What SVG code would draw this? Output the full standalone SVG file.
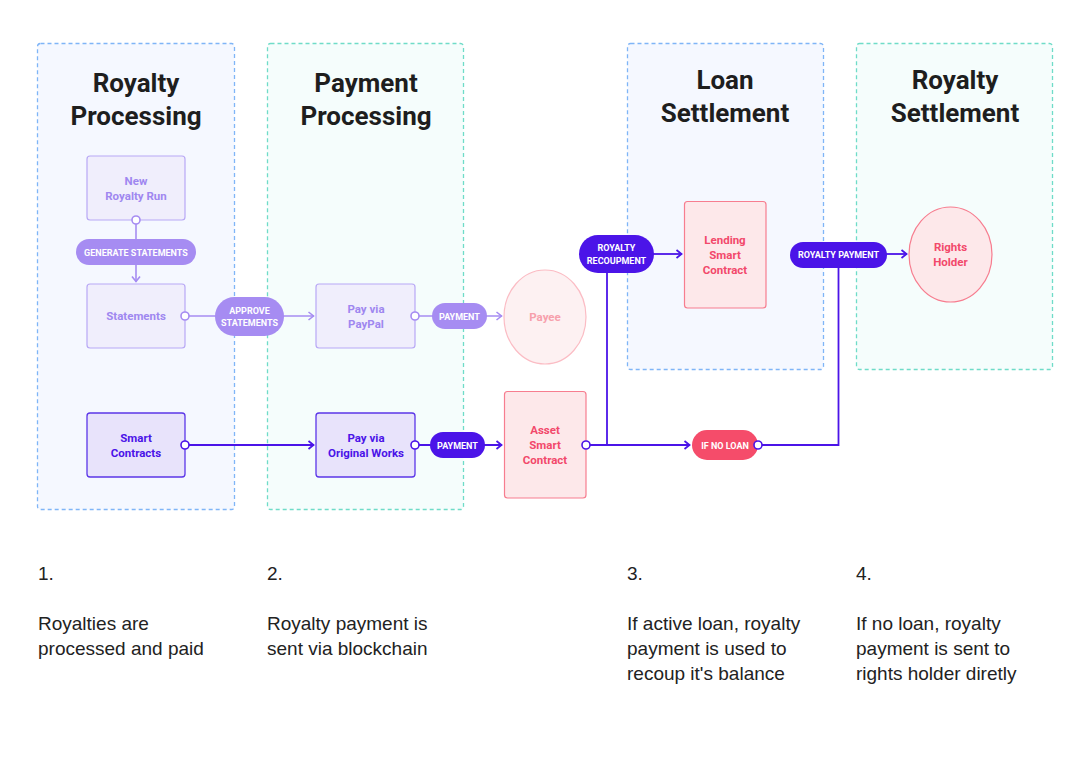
<svg xmlns="http://www.w3.org/2000/svg" width="1091" height="765" viewBox="0 0 1091 765">
<defs>
<style>
.pb{fill:#f5f8ff;stroke:#7fb5f7;stroke-width:1.3;stroke-dasharray:4 3}
.pt{fill:#f5fdfc;stroke:#6fdcc8;stroke-width:1.3;stroke-dasharray:4 3}
.title{font-family:Roboto,"Liberation Sans",sans-serif;font-weight:700;font-size:26px;fill:#1e1e1e;text-anchor:middle}
.nt{font-family:Roboto,"Liberation Sans",sans-serif;font-weight:700;font-size:11.5px;text-anchor:middle}
.pl{font-family:Roboto,"Liberation Sans",sans-serif;font-weight:700;font-size:9px;fill:#ffffff;text-anchor:middle}
.lp{fill:#f0eefc;stroke:#b8a8f5;stroke-width:1.2}
.lpt{fill:#9f87f0}
.dp{fill:#e8e3fb;stroke:#5b36e8;stroke-width:1.3}
.dpt{fill:#4b14e8}
.pk{fill:#fde8ea;stroke:#f77d8f;stroke-width:1.2}
.pkt{fill:#f2496b}
.lpk{fill:#fdf1f2;stroke:#fbbcc4;stroke-width:1.2}
.lpkt{fill:#f7a0ac}
.cl{fill:none;stroke:#a68cf2;stroke-width:1.6}
.cd{fill:none;stroke:#4b14e8;stroke-width:1.8}
.dotl{fill:#ffffff;stroke:#a68cf2;stroke-width:1.6}
.dotd{fill:#ffffff;stroke:#4b14e8;stroke-width:1.6}
.desc{font-family:"Liberation Sans",Arial,sans-serif;font-size:19px;fill:#222222}
</style>
<marker id="al" markerUnits="userSpaceOnUse" markerWidth="10" markerHeight="12" refX="7" refY="5" orient="auto">
<path d="M1.5,1 L6.5,5 L1.5,9" fill="none" stroke="#a68cf2" stroke-width="1.6"/>
</marker>
<marker id="ad" markerUnits="userSpaceOnUse" markerWidth="10" markerHeight="12" refX="7" refY="5" orient="auto">
<path d="M1.5,1 L6.5,5 L1.5,9" fill="none" stroke="#4b14e8" stroke-width="1.8"/>
</marker>
</defs>
<rect width="1091" height="765" fill="#ffffff"/>

<g id="panels">
<g id="panel-royalty-processing">
<rect class="pb" x="37.5" y="43.5" width="197" height="466" rx="3"/>
<text class="title" x="136" y="92">Royalty</text>
<text class="title" x="136" y="125">Processing</text>
</g>
<g id="panel-payment-processing">
<rect class="pt" x="267.5" y="43.5" width="196" height="466" rx="3"/>
<text class="title" x="366" y="92">Payment</text>
<text class="title" x="366" y="125">Processing</text>
</g>
<g id="panel-loan-settlement">
<rect class="pb" x="627.5" y="43.5" width="196" height="326" rx="3"/>
<text class="title" x="725" y="89">Loan</text>
<text class="title" x="725" y="122">Settlement</text>
</g>
<g id="panel-royalty-settlement">
<rect class="pt" x="856.5" y="43.5" width="196" height="326" rx="3"/>
<text class="title" x="955" y="89">Royalty</text>
<text class="title" x="955" y="122">Settlement</text>
</g>
</g>

<g id="node-new-royalty-run">
<rect class="lp" x="87" y="156" width="98" height="64" rx="3"/>
<text class="nt lpt" x="136" y="185">New</text>
<text class="nt lpt" x="136" y="200">Royalty Run</text>
</g>
<g id="node-statements">
<rect class="lp" x="87" y="284" width="98" height="64" rx="3"/>
<text class="nt lpt" x="136" y="320">Statements</text>
</g>
<g id="node-pay-via-paypal">
<rect class="lp" x="316" y="284" width="99" height="64" rx="3"/>
<text class="nt lpt" x="366" y="313">Pay via</text>
<text class="nt lpt" x="366" y="328">PayPal</text>
</g>
<g id="node-payee">
<ellipse class="lpk" cx="545" cy="317" rx="41" ry="47"/>
<text class="nt lpkt" x="545" y="321">Payee</text>
</g>
<g id="node-smart-contracts">
<rect class="dp" x="87" y="413" width="98" height="64" rx="3"/>
<text class="nt dpt" x="136" y="442">Smart</text>
<text class="nt dpt" x="136" y="457">Contracts</text>
</g>
<g id="node-pay-via-original-works">
<rect class="dp" x="316" y="413" width="99" height="64" rx="3"/>
<text class="nt dpt" x="366" y="442">Pay via</text>
<text class="nt dpt" x="366" y="457">Original Works</text>
</g>
<g id="node-asset-smart-contract">
<rect class="pk" x="504.5" y="391.5" width="81.5" height="106.5" rx="3"/>
<text class="nt pkt" x="545" y="434">Asset</text>
<text class="nt pkt" x="545" y="449">Smart</text>
<text class="nt pkt" x="545" y="464">Contract</text>
</g>
<g id="node-lending-smart-contract">
<rect class="pk" x="684.5" y="201.5" width="81.5" height="106.5" rx="3"/>
<text class="nt pkt" x="725" y="244">Lending</text>
<text class="nt pkt" x="725" y="259">Smart</text>
<text class="nt pkt" x="725" y="274">Contract</text>
</g>
<g id="node-rights-holder">
<ellipse class="pk" cx="950.5" cy="254.5" rx="41.5" ry="47.5"/>
<text class="nt pkt" x="950.5" y="251">Rights</text>
<text class="nt pkt" x="950.5" y="266">Holder</text>
</g>

<g id="connectors">
<path class="cl" d="M136,224 V282" marker-end="url(#al)"/>
<path class="cl" d="M189,316 H314" marker-end="url(#al)"/>
<path class="cl" d="M419,316 H502" marker-end="url(#al)"/>
<path class="cd" d="M189,445 H314" marker-end="url(#ad)"/>
<path class="cd" d="M419,445 H502" marker-end="url(#ad)"/>
<path class="cd" d="M590,445 H690" marker-end="url(#ad)"/>
<path class="cd" d="M607,445 V270"/>
<path class="cd" d="M652,254 H682" marker-end="url(#ad)"/>
<path class="cd" d="M762,445 H838.5 V266"/>
<path class="cd" d="M884,254 H907" marker-end="url(#ad)"/>
<circle class="dotl" cx="136" cy="220" r="4"/>
<circle class="dotl" cx="185" cy="316" r="4"/>
<circle class="dotl" cx="415" cy="316" r="4"/>
<circle class="dotd" cx="185" cy="445" r="4"/>
<circle class="dotd" cx="415" cy="445" r="4"/>
<circle class="dotd" cx="586" cy="445" r="4"/>
</g>

<g id="edge-labels">
<g id="label-generate-statements">
<rect x="76" y="239" width="120" height="26" rx="13" fill="#a68cf2"/>
<text class="pl" x="136" y="255.5">GENERATE STATEMENTS</text>
</g>
<g id="label-approve-statements">
<rect x="215" y="297" width="69" height="39" rx="19.5" fill="#a68cf2"/>
<text class="pl" x="249.5" y="313.5">APPROVE</text>
<text class="pl" x="249.5" y="325.5">STATEMENTS</text>
</g>
<g id="label-payment-light">
<rect x="432" y="303" width="55" height="26" rx="13" fill="#a68cf2"/>
<text class="pl" x="459.5" y="319.5">PAYMENT</text>
</g>
<g id="label-payment-dark">
<rect x="430" y="432" width="55" height="26" rx="13" fill="#4b14e8"/>
<text class="pl" x="457.5" y="448.5">PAYMENT</text>
</g>
<g id="label-royalty-recoupment">
<rect x="579" y="235" width="75" height="38" rx="19" fill="#4b14e8"/>
<text class="pl" x="616.5" y="251">ROYALTY</text>
<text class="pl" x="616.5" y="264">RECOUPMENT</text>
</g>
<g id="label-if-no-loan">
<rect x="692" y="430" width="66" height="30" rx="15" fill="#f54c6a"/>
<text class="pl" x="725" y="448.5">IF NO LOAN</text>
<circle class="dotd" cx="758" cy="445" r="4"/>
</g>
<g id="label-royalty-payment">
<rect x="790" y="242" width="97" height="26" rx="13" fill="#4b14e8"/>
<text class="pl" x="838.5" y="258">ROYALTY PAYMENT</text>
</g>
</g>

<g id="descriptions">
<text class="desc" x="38" y="580">1.</text>
<text class="desc" x="38" y="630">Royalties are</text>
<text class="desc" x="38" y="655">processed and paid</text>
<text class="desc" x="267" y="580">2.</text>
<text class="desc" x="267" y="630">Royalty payment is</text>
<text class="desc" x="267" y="655">sent via blockchain</text>
<text class="desc" x="627" y="580">3.</text>
<text class="desc" x="627" y="630">If active loan, royalty</text>
<text class="desc" x="627" y="655">payment is used to</text>
<text class="desc" x="627" y="680">recoup it's balance</text>
<text class="desc" x="856" y="580">4.</text>
<text class="desc" x="856" y="630">If no loan, royalty</text>
<text class="desc" x="856" y="655">payment is sent to</text>
<text class="desc" x="856" y="680">rights holder diretly</text>
</g>
</svg>
